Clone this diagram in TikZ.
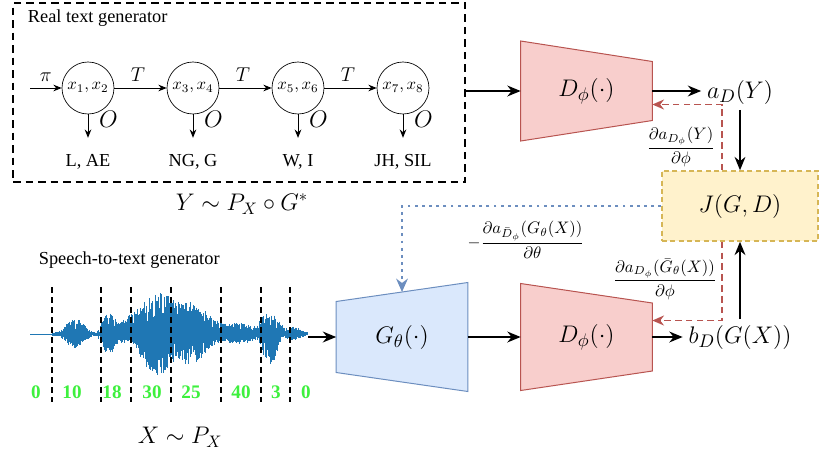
\documentclass[tikz,border=0pt]{standalone}
\usepackage{amsmath}
\usepackage{fontspec}
\setmainfont{Liberation Serif}
\usetikzlibrary{arrows.meta, positioning, calc, backgrounds}

\definecolor{dfill}{HTML}{F8CECC}
\definecolor{dline}{HTML}{B85450}
\definecolor{gfill}{HTML}{DAE8FC}
\definecolor{gline}{HTML}{6C8EBF}
\definecolor{jfill}{HTML}{FFF2CC}
\definecolor{jline}{HTML}{D6B656}
\definecolor{wavblue}{HTML}{1F77B4}
\definecolor{numgreen}{HTML}{3DF03D}

\begin{document}
\begin{tikzpicture}[x=0.6pt, y=-0.6pt,
    state/.style={draw, circle, minimum size=31.2pt, inner sep=0pt},
    hmm/.style={-{Stealth[length=5pt, width=4pt]}, line width=0.6pt},
    arrow/.style={-{Stealth[length=8pt, width=6.5pt]}, line width=1.1pt},
    grad_d/.style={-{Stealth[length=7pt, width=6pt]}, line width=1.1pt, dline, dash pattern=on 4pt off 2.5pt},
    grad_g/.style={-{Stealth[length=8pt, width=7pt]}, line width=1.7pt, gline, dash pattern=on 1.7pt off 2.6pt},
    disc/.style={fill=dfill, draw=dline, line width=0.6pt},
    gen/.style={fill=gfill, draw=gline, line width=0.6pt},
    block/.style={big, minimum width=78.6pt, minimum height=36pt, inner sep=0pt},
    big/.style={font=\fontsize{15.5}{18}\selectfont},
    dist/.style={font=\fontsize{14}{17}\selectfont},
    txt/.style={font=\fontsize{11}{13}\selectfont},
    frac/.style={inner sep=1pt},
    seg/.style={line width=1.1pt, dash pattern=on 3.5pt off 2.5pt},
    num/.style={text=numgreen, font=\fontsize{11.5}{13}\selectfont\bfseries},
    wavline/.style={wavblue, line width=0.5pt},
    declare function={
        bump(\xa,\xm,\xs)=max(0,1-((\xa-\xm)/\xs)*((\xa-\xm)/\xs))*max(0,1-((\xa-\xm)/\xs)*((\xa-\xm)/\xs));
        upenv(\xa)=2+13*bump(\xa,75,18)+18*bump(\xa,108,12)+9*bump(\xa,122,14)+30*bump(\xa,150,34)+29*bump(\xa,187,45)+9*bump(\xa,238,30)+19*bump(\xa,270,18)+5*bump(\xa,293,14);
        dnenv(\xa)=2+12*bump(\xa,75,18)+17*bump(\xa,108,12)+7*bump(\xa,122,14)+36*bump(\xa,153,26)+27*bump(\xa,188,38)+8*bump(\xa,238,30)+27*bump(\xa,270,14)+4*bump(\xa,293,14);
    },
]
\useasboundingbox (0,0) rectangle (822,475);

% real text generator
\node[draw, line width=1.1pt, dash pattern=on 4.5pt off 3pt, minimum width=271.2pt, minimum height=107.4pt] (realgen) at (239,92.5) {};
\node[txt, anchor=west] (realtitle) at (22,18) {Real text generator};

\node[state] (s1) at (88,88) {$x_1,x_2$};
\node[state] (s2) at (193,88) {$x_3,x_4$};
\node[state] (s3) at (298,88) {$x_5,x_6$};
\node[state] (s4) at (403,88) {$x_7,x_8$};
\coordinate (init) at (30,88);

\node[txt] (o1) at (88,162) {L, AE};
\node[txt] (o2) at (193,162) {NG, G};
\node[txt] (o3) at (298,162) {W, I};
\node[txt] (o4) at (403,162) {JH, SIL};

\draw[hmm] (init) -- node[above] {\large$\pi$} (s1);
\foreach \a/\b in {s1/s2, s2/s3, s3/s4}
    \draw[hmm] (\a) -- node[above, pos=0.45] {\large$T$} (\b);
\foreach \i in {1,...,4}
    \draw[hmm, shorten >=6.5pt] (s\i) -- node[pos=0.15, right, xshift=3pt] {\Large$O$} (o\i);

\node[dist] (ylab) at (242,204) {$Y\sim P_X\circ G^*$};

% discriminators, generator, objective
\node[block] (Dtop) at (586.5,91) {$D_\phi(\cdot)$};
\node[big] (aDY) at (740,92) {$a_D(Y)$};
\node[big, draw=jline, fill=jfill, line width=0.9pt, dash pattern=on 3pt off 2pt,
      minimum width=93.6pt, minimum height=42pt] (J) at (740,206) {$J(G,D)$};
\node[block] (G) at (402,337) {$G_\theta(\cdot)$};
\node[block] (Dbot) at (586.5,337) {$D_\phi(\cdot)$};
\node[big] (bDG) at (740,337) {$b_D(G(X))$};

\begin{scope}[on background layer]
\draw[disc] ($(Dtop.west)+(0,-50)$) -- ($(Dtop.east)+(0,-29.5)$) -- ($(Dtop.east)+(0,29.5)$) -- ($(Dtop.west)+(0,50)$) -- cycle;
\draw[disc] ($(Dbot.west)+(0,-53.5)$) -- ($(Dbot.east)+(0,-34)$) -- ($(Dbot.east)+(0,34)$) -- ($(Dbot.west)+(0,53.5)$) -- cycle;
\draw[gen] ($(G.west)+(0,-35.5)$) -- ($(G.east)+(0,-54.5)$) -- ($(G.east)+(0,54.5)$) -- ($(G.west)+(0,35.5)$) -- cycle;
\end{scope}

\draw[arrow] (realgen.east |- Dtop.west) -- (Dtop.west);
\draw[arrow] (Dtop.east) -- (Dtop.east -| aDY.west);
\draw[arrow] (aDY.south) -- (J.north);
\draw[grad_d] ($(J.north)+(-18,0)$) |- ($(Dtop.east)+(0,13.5)$);
\node[frac] (gDtop) at (681,147) {$\dfrac{\partial a_{D_\phi}(Y)}{\partial\phi}$};

\draw[grad_g] (J.west) -| ($(G.center)+(0,-45)$);
\node[frac] (gG) at (526,240) {$-\dfrac{\partial a_{\bar D_\phi}(G_\theta(X))}{\partial\theta}$};

\draw[arrow] (G.east) -- (Dbot.west);
\draw[arrow] (Dbot.east) -- (Dbot.east -| bDG.west);
\draw[arrow] (bDG.north) -- (J.south);
\draw[grad_d] ($(J.south)+(-18,0)$) |- ($(Dbot.east)+(0,-16.5)$);
\node[frac] (gDbot) at (665,279) {$\dfrac{\partial a_{D_\phi}(\bar G_\theta(X))}{\partial\phi}$};

% speech-to-text generator
\node[txt, anchor=west] (speechtitle) at (33,260) {Speech-to-text generator};
\coordinate (wavein) at (30,334);
\coordinate (wavbeg) at (52,334);
\coordinate (wavend) at (308,337);
\draw[wavblue, line width=0.6pt] (wavein) -- (wavbeg);
\pgfmathsetseed{11}
\foreach \wx in {52,52.6,...,308} {
    \pgfmathsetmacro\up{upenv(\wx)*(0.3+0.75*sqrt(rnd))}
    \pgfmathsetmacro\dn{dnenv(\wx)*(0.3+0.75*sqrt(rnd))}
    \draw[wavline] (\wx,334-\up) -- (\wx,334+\dn);
}
\draw[arrow] (wavend) -- (G.west);

\foreach \sx in {52,101,131,171,221,261,290}
    \draw[seg] (\sx,287) -- (\sx,402);
\foreach \nx/\nv [count=\i] in {36/0, 72/10, 112/18, 152/30, 191/25, 241/40, 276/3, 306/0}
    \node[num] (num\i) at (\nx,392) {\nv};

\node[dist] (xlab) at (180,437) {$X\sim P_X$};

\end{tikzpicture}
\end{document}
